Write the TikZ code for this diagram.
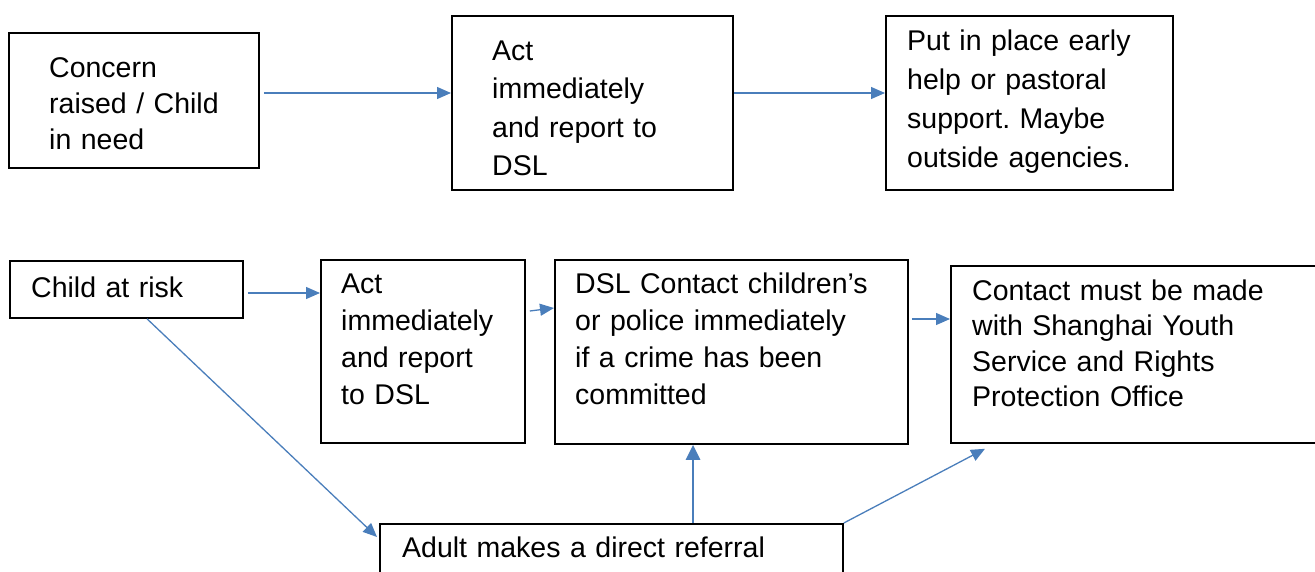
\documentclass[tikz,border=0pt]{standalone}
\usepackage{fontspec}
\setmainfont{Liberation Sans}
\usetikzlibrary{arrows.meta,calc}
\definecolor{arrowblue}{RGB}{74,126,187}
\begin{document}
\frenchspacing
\begin{tikzpicture}[x=1pt,y=-1pt,
  box/.style={draw=black,line width=1.8pt,rectangle,inner sep=0pt,anchor=north west},
  txt/.style={anchor=base west,inner sep=0pt,align=left,text width=#1},
  txt/.default=340pt,
  conn/.style={draw=arrowblue,line width=1.3pt,-{Triangle[length=14pt,width=12pt]}},
  thickconn/.style={draw=arrowblue,line width=2.8pt,-{Triangle[length=15pt,width=14pt]}},
]
\useasboundingbox (0,0) rectangle (1315,571);
\clip (0,0) rectangle (1315,571);
% boxes
\node[box,minimum width=250pt,minimum height=135pt] (b1) at (8,32) {};
\node[box,line width=2.4pt,minimum width=281pt,minimum height=174pt] (b2) at (451,15) {};
\node[box,minimum width=287pt,minimum height=174pt] (b3) at (885,15) {};
\node[box,minimum width=233pt,minimum height=57pt] (b4) at (9,260) {};
\node[box,minimum width=204pt,minimum height=183pt] (b5) at (320,259) {};
\node[box,minimum width=353pt,minimum height=184pt] (b6) at (554,259) {};
\node[box,minimum width=380pt,minimum height=177pt] (b7) at (950,265) {};
\node[box,minimum width=463pt,minimum height=80pt] (b8) at (379,523) {};
% texts
\node[txt,font=\fontsize{28.5}{36}\selectfont] (t1) at (49,77) {Concern\\raised / Child\\in need};
\node[txt,font=\fontsize{28.5}{38.5}\selectfont] (t2) at (492,60) {Act\\immediately\\and report to\\DSL};
\node[txt,font=\fontsize{28.5}{39}\selectfont] (t3) at (907,50) {Put in place early\\help or pastoral\\support. Maybe\\outside agencies.};
\node[txt,font=\fontsize{28.5}{37}\selectfont] (t4) at (31,297) {Child at risk};
\node[txt,font=\fontsize{28.5}{37}\selectfont] (t5) at (341,293) {Act\\immediately\\and report\\to DSL};
\node[txt,font=\fontsize{28.5}{37}\selectfont] (t6) at (575,293) {DSL Contact children’s\\or police immediately\\if a crime has been\\committed};
\node[txt,font=\fontsize{28.5}{35.5}\selectfont] (t7) at (972,300) {Contact must be made\\with Shanghai Youth\\Service and Rights\\Protection Office};
\node[txt=440pt,font=\fontsize{28.5}{37}\selectfont] (t8) at (402,557) {Adult makes a direct referral};
% connectors
\draw[conn] ($(b1.north east)+(4,61)$) -- ($(b2.north west)+(0,78)$);
\draw[conn] ($(b2.north east)+(0,78)$) -- ($(b3.north west)+(0,78)$);
\draw[conn] ($(b4.north east)+(4,33)$) -- ($(b5.north west)+(0,34)$);
\draw[conn] ($(b5.north east)+(4,52)$) -- ($(b6.north west)+(0,49)$);
\draw[conn] ($(b6.north east)+(3,60)$) -- ($(b7.north west)+(0,54)$);
\draw[conn] ($(b4.south west)+(138,0)$) -- ($(b8.north west)+(-2,14)$);
\draw[thickconn] ($(b8.north west)+(314,0)$) -- ($(b6.south west)+(139,0)$);
\draw[conn] (b8.north east) -- ($(b7.south west)+(35,5)$);
\end{tikzpicture}
\end{document}
